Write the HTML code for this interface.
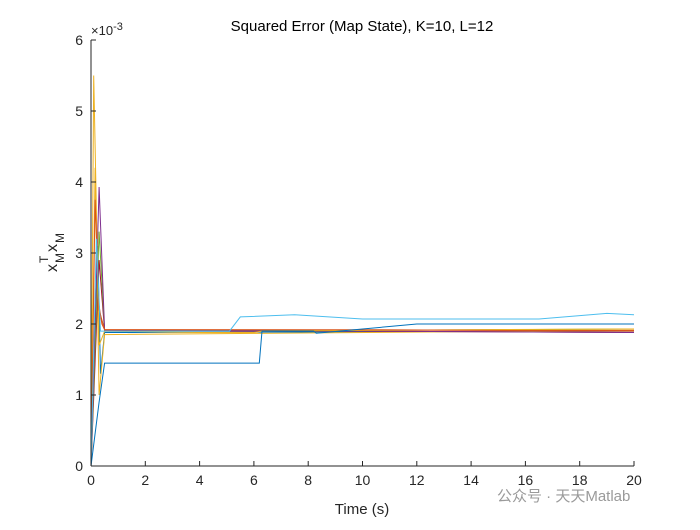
<!DOCTYPE html>
<html><head><meta charset="utf-8"><style>
body{margin:0;background:#fff;font-family:"Liberation Sans","Noto Sans CJK SC",sans-serif}
svg text{font-family:"Liberation Sans","Noto Sans CJK SC",sans-serif}
</style></head><body>
<svg id="chart" width="700" height="525" viewBox="0 0 700 525" xmlns="http://www.w3.org/2000/svg">
<rect width="700" height="525" fill="#fff"/>
<text x="362" y="31" text-anchor="middle" font-size="15" fill="#000">Squared Error (Map State), K=10, L=12</text>
<g id="series"></g>
<g id="axes"></g>
<text x="362" y="514" text-anchor="middle" font-size="15" fill="#262626">Time (s)</text>
<g transform="translate(57,250) rotate(-90)" fill="#262626">
<text x="-22" y="0" font-size="16">x</text>
<text x="-13" y="-9" font-size="12">T</text>
<text x="-13" y="7" font-size="12">M</text>
<text x="-2" y="0" font-size="16">x</text>
<text x="7" y="7" font-size="12">M</text>
</g>
<text x="91" y="35" font-size="13" fill="#262626">×10<tspan dy="-5" font-size="11">-3</tspan></text>
<text x="497" y="501" font-size="15" fill="#9a9a9a">公众号 · 天天Matlab</text>
</svg>
<script>
const xTicks=[0,2,4,6,8,10,12,14,16,18,20];
const yTicks=[0,1,2,3,4,5,6];
const colors=["#0072BD","#4DBEEE","#D95319","#EDB120","#7E2F8E","#77AC30","#A2142F","#D95319","#EDB120","#0072BD"];
const times0=[0,0.3,0.5,6.2,6.3,8.2,8.3,10,12,20];
const vals0=[0,0.9,1.45,1.45,1.9,1.9,1.87,1.93,2.0,2.0];
const times1=[0,0.2,0.35,5.1,5.5,7.5,10,16.5,19,20];
const vals1=[0,3.2,1.9,1.9,2.1,2.13,2.07,2.07,2.15,2.13];
const times2=[0,0.15,0.3,0.5,10,20];
const vals2=[0,3.75,2.2,1.92,1.92,1.9];
const times3=[0,0.1,0.3,0.5,4,6,6.3,14,20];
const vals3=[0,5.5,1.7,1.9,1.88,1.88,1.9,1.92,1.93];
const times4=[0,0.3,0.5,10,20];
const vals4=[0,3.93,1.91,1.9,1.88];
const times5=[0,0.3,0.5,10,20];
const vals5=[0,3.3,1.91,1.91,1.93];
const times6=[0,0.3,0.5,10,20];
const vals6=[0,2.9,1.9,1.9,1.88];
const times7=[0,0.2,0.4,0.5,20];
const vals7=[0,2.5,2.0,1.92,1.91];
const times8=[0,0.15,0.3,0.5,20];
const vals8=[0,4.2,1.0,1.85,1.91];
const times9=[0,0.25,0.35,0.5,20];
const vals9=[0,3.1,1.3,1.88,1.9];
const allT=[times0,times1,times2,times3,times4,times5,times6,times7,times8,times9];
const allV=[vals0,vals1,vals2,vals3,vals4,vals5,vals6,vals7,vals8,vals9];
const X0=91,X1=634,Y0=466,Y1=40;
const sx=t=>X0+(t-0)/(20-0)*(X1-X0);
const sy=v=>Y0-(v-0)/(6-0)*(Y0-Y1);
const NS="http://www.w3.org/2000/svg";
const sg=document.getElementById('series');
for(let i=allT.length-1;i>=0;i--){
  const p=document.createElementNS(NS,'polyline');
  
  
  p.setAttribute('points',allT[i].map((t,j)=>sx(t).toFixed(1)+','+sy(allV[i][j]).toFixed(1)).join(' '));
  p.setAttribute('fill','none');p.setAttribute('stroke',colors[i]);p.setAttribute('stroke-width','1');
  sg.appendChild(p);
}
const ax=document.getElementById('axes');
let h='<line x1="'+X0+'" y1="'+Y0+'" x2="'+X1+'" y2="'+Y0+'" stroke="#262626"/>';
h+='<line x1="'+X0+'" y1="'+Y0+'" x2="'+X0+'" y2="'+Y1+'" stroke="#262626"/>';
ax.innerHTML=h;
xTicks.forEach(t=>{
  const l=document.createElementNS(NS,'line');
  
  
  l.setAttribute('x1',sx(t));l.setAttribute('x2',sx(t));l.setAttribute('y1',Y0);l.setAttribute('y2',Y0-5);l.setAttribute('stroke','#262626');
  ax.appendChild(l);
  const tx=document.createElementNS(NS,'text');
  
  
  tx.setAttribute('x',sx(t));tx.setAttribute('y',Y0+19);tx.setAttribute('text-anchor','middle');tx.setAttribute('font-size','14');tx.setAttribute('fill','#262626');
  tx.textContent=t;ax.appendChild(tx);
});
yTicks.forEach(v=>{
  const l=document.createElementNS(NS,'line');
  
  
  l.setAttribute('x1',X0);l.setAttribute('x2',X0+5);l.setAttribute('y1',sy(v));l.setAttribute('y2',sy(v));l.setAttribute('stroke','#262626');
  ax.appendChild(l);
  const tx=document.createElementNS(NS,'text');
  
  
  tx.setAttribute('x',X0-8);tx.setAttribute('y',sy(v)+5);tx.setAttribute('text-anchor','end');tx.setAttribute('font-size','14');tx.setAttribute('fill','#262626');
  tx.textContent=v;ax.appendChild(tx);
});
</script>
</body></html>
